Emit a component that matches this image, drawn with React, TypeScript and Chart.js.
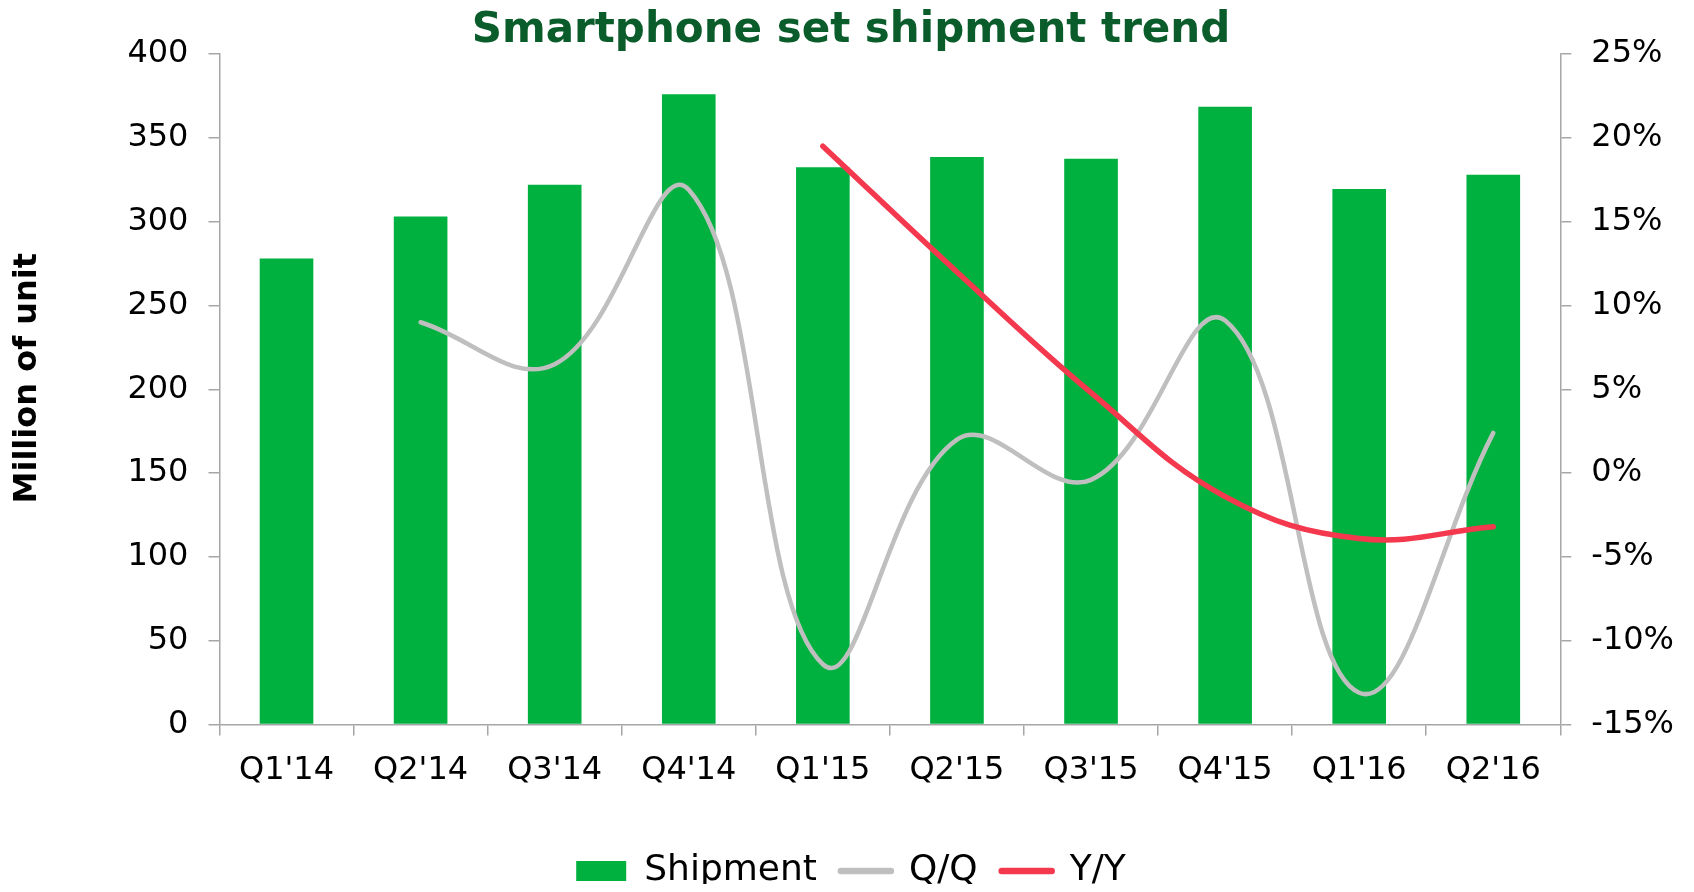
import React, { useEffect, useRef } from "react";
import { Chart, registerables } from "chart.js";

Chart.register(...registerables);

const categories = ["Q1'14", "Q2'14", "Q3'14", "Q4'14", "Q1'15", "Q2'15", "Q3'15", "Q4'15", "Q1'16", "Q2'16"];
const shipment = [278, 303, 322, 376, 332.5, 338.5, 337.5, 368.5, 319.5, 328];
const qoq = [null, 9.0, 6.5, 16.9, -11.4, 2.0, -0.4, 9.1, -13.1, 2.4];
const yoy = [null, null, null, null, 19.5, 12.0, 4.8, -1.4, -3.9, -3.2];

const FONT = "'DejaVu Sans', Verdana, sans-serif";
const AXIS = "#a6a6a6";

export default function App() {
  const ref = useRef<HTMLCanvasElement | null>(null);
  useEffect(() => {
    if (!ref.current) return;
    const chart = new Chart(ref.current, {
      type: "bar",
      data: {
        labels: categories,
        datasets: [
          {
            type: "bar",
            label: "Shipment",
            data: shipment,
            backgroundColor: "#00b140",
            borderWidth: 0,
            barPercentage: 0.4,
            categoryPercentage: 1.0,
            yAxisID: "y",
            order: 2,
          },
          {
            type: "line",
            label: "Q/Q",
            data: qoq as any,
            borderColor: "#bfbfbf",
            backgroundColor: "#bfbfbf",
            borderWidth: 4.5,
            borderCapStyle: "round",
            tension: 0.4,
            pointRadius: 0,
            pointHoverRadius: 0,
            yAxisID: "y1",
            order: 1,
          },
          {
            type: "line",
            label: "Y/Y",
            data: yoy as any,
            borderColor: "#f4384e",
            backgroundColor: "#f4384e",
            borderWidth: 5.5,
            borderCapStyle: "round",
            tension: 0.4,
            pointRadius: 0,
            pointHoverRadius: 0,
            yAxisID: "y1",
            order: 0,
          },
        ],
      },
      options: {
        animation: false,
        responsive: true,
        maintainAspectRatio: false,
        layout: { padding: { left: 0, right: -8, top: 0, bottom: -7 } },
        plugins: {
          title: {
            display: true,
            text: "Smartphone set shipment trend",
            color: "#0a5c2b",
            font: { family: FONT, size: 42, weight: "bold", lineHeight: 1 },
            padding: { top: 2, bottom: 2 },
          },
          tooltip: { enabled: false },
          legend: {
            position: "bottom",
            labels: {
              usePointStyle: true,
              pointStyleWidth: 50,
              boxHeight: 20,
              padding: 24,
              color: "#000",
              font: { family: FONT, size: 36 },
              sort: (a: any, b: any) => a.datasetIndex - b.datasetIndex,
              generateLabels: (c: any) => {
                const items = Chart.defaults.plugins.legend.labels.generateLabels(c);
                return items.map((it: any) => {
                  const ds = c.data.datasets[it.datasetIndex];
                  if (it.datasetIndex === 0) {
                    return { ...it, pointStyle: "rect", fillStyle: ds.backgroundColor, lineWidth: 0 };
                  }
                  return {
                    ...it,
                    pointStyle: "line",
                    strokeStyle: ds.borderColor,
                    fillStyle: ds.borderColor,
                    lineWidth: 6.5,
                    lineCap: "round",
                  };
                });
              },
            },
          },
        },
        scales: {
          x: {
            grid: {
              offset: true,
              drawOnChartArea: false,
              drawTicks: true,
              tickLength: 11,
              color: AXIS,
              lineWidth: 1.5,
            },
            border: { color: AXIS, width: 1.5 },
            ticks: { color: "#000", padding: 16, font: { family: FONT, size: 32 }, maxRotation: 0 },
            title: {
              display: true,
              text: " ",
              font: { family: FONT, size: 1, lineHeight: 1 },
              padding: { top: 22, bottom: 0 },
            },
          },
          y: {
            position: "left",
            min: 0,
            max: 400,
            ticks: { stepSize: 50, color: "#000", padding: 20, font: { family: FONT, size: 32 } },
            grid: { drawOnChartArea: false, tickLength: 11, color: AXIS, lineWidth: 1.5 },
            border: { color: AXIS, width: 1.5 },
            title: {
              display: true,
              text: "  Million of unit",
              color: "#000",
              font: { family: FONT, size: 32, weight: "bold" },
              padding: { top: 0, bottom: 61 },
            },
          },
          y1: {
            position: "right",
            min: -15,
            max: 25,
            ticks: {
              stepSize: 5,
              color: "#000",
              padding: 20,
              font: { family: FONT, size: 32 },
              callback: (v: any) => v + "%",
            },
            grid: { drawOnChartArea: false, tickLength: 11, color: AXIS, lineWidth: 1.5 },
            border: { color: AXIS, width: 1.5 },
          },
        },
      },
    });
    return () => chart.destroy();
  }, []);
  return (
    <div style={{ position: "relative", width: "1678px", height: "884px", marginBottom: "-8px" }}>
      <canvas ref={ref} />
    </div>
  );
}
